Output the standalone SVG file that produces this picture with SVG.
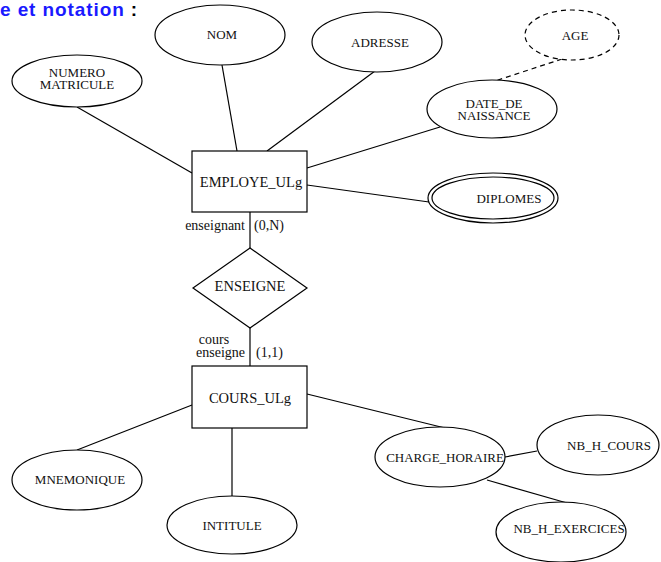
<svg xmlns="http://www.w3.org/2000/svg" width="661" height="562" viewBox="0 0 661 562">
<style>
.s{fill:none;stroke:#000;stroke-width:1.2}
.w{fill:#fff;stroke:#000;stroke-width:1.2}
.d{fill:#fff;stroke:#000;stroke-width:1.2;stroke-dasharray:5,4}
.t{font-family:"Liberation Serif","Times New Roman",serif;font-size:13px;fill:#111;text-anchor:middle}
.b{font-family:"Liberation Serif","Times New Roman",serif;font-size:14.5px;fill:#111;text-anchor:middle}
.l{font-family:"Liberation Serif","Times New Roman",serif;font-size:14px;fill:#111}
</style>
<rect width="661" height="562" fill="#fff"/>
<text x="0" y="16" font-family="Liberation Sans,Arial,sans-serif" font-weight="bold" font-size="19" letter-spacing="0.9" fill="#1a1aff">e et notation <tspan fill="#000" letter-spacing="0">:</tspan></text>
<g id="connectors">
<line class="s" x1="77" y1="107" x2="192" y2="173"/>
<line class="s" x1="222" y1="65" x2="237" y2="151"/>
<line class="s" x1="375" y1="71" x2="267" y2="151"/>
<line class="s" x1="440" y1="127" x2="307" y2="168"/>
<line class="s" x1="307" y1="185" x2="429" y2="202"/>
<line class="s" x1="562" y1="59" x2="495" y2="81" stroke-dasharray="5,4"/>
<line class="s" x1="250" y1="212" x2="250" y2="248"/>
<line class="s" x1="250" y1="328" x2="250" y2="366"/>
<line class="s" x1="77" y1="450" x2="192" y2="405"/>
<line class="s" x1="232" y1="428" x2="232" y2="496"/>
<line class="s" x1="307" y1="394" x2="445" y2="428"/>
<line class="s" x1="505" y1="457" x2="537" y2="451"/>
<line class="s" x1="487" y1="480" x2="567" y2="503"/>
</g>
<g id="numero"><ellipse class="w" cx="77" cy="81" rx="65" ry="26"/><text class="t" x="77" y="77">NUMERO</text><text class="t" x="77" y="88.5">MATRICULE</text></g>
<g id="nom"><ellipse class="w" cx="220" cy="35" rx="65" ry="30"/><text class="t" x="222" y="39">NOM</text></g>
<g id="adresse"><ellipse class="w" cx="377" cy="42" rx="65" ry="30"/><text class="t" x="380" y="47">ADRESSE</text></g>
<g id="age"><ellipse class="d" cx="572" cy="35" rx="47" ry="25"/><text class="t" x="575" y="40">AGE</text></g>
<g id="date"><ellipse class="w" cx="492" cy="109" rx="65" ry="29"/><text class="t" x="494" y="107.5">DATE_DE</text><text class="t" x="494" y="120">NAISSANCE</text></g>
<g id="diplomes"><ellipse class="w" cx="493" cy="198" rx="65" ry="25"/><ellipse class="s" cx="493" cy="198" rx="61" ry="21"/><text class="t" x="509" y="203">DIPLOMES</text></g>
<g id="employe"><rect class="w" x="192" y="151" width="115" height="61"/><text class="b" x="251" y="187">EMPLOYE_ULg</text></g>
<g id="enseigne"><polygon class="w" points="250,248 307,288 250,328 193,288"/><text class="b" x="250" y="291">ENSEIGNE</text>
<text class="l" x="245" y="230" text-anchor="end">enseignant</text><text class="l" x="254" y="230">(0,N)</text>
<text class="l" x="214" y="344" text-anchor="middle">cours</text><text class="l" x="245" y="357" text-anchor="end">enseigne</text><text class="l" x="256" y="357">(1,1)</text></g>
<g id="cours"><rect class="w" x="192" y="366" width="115" height="62"/><text class="b" x="250" y="403">COURS_ULg</text></g>
<g id="mnemonique"><ellipse class="w" cx="77" cy="480" rx="65" ry="30"/><text class="t" x="80" y="484">MNEMONIQUE</text></g>
<g id="intitule"><ellipse class="w" cx="232" cy="525" rx="65" ry="29"/><text class="t" x="232" y="530">INTITULE</text></g>
<g id="charge"><ellipse class="w" cx="440" cy="457" rx="65" ry="30"/><text class="t" x="445" y="462">CHARGE_HORAIRE</text></g>
<g id="nbcours"><ellipse class="w" cx="598" cy="445" rx="61" ry="30"/><text class="t" x="609" y="450">NB_H_COURS</text></g>
<g id="nbexercices"><ellipse class="w" cx="561" cy="532" rx="65" ry="30"/><text class="t" x="569" y="533">NB_H_EXERCICES</text></g>
</svg>
